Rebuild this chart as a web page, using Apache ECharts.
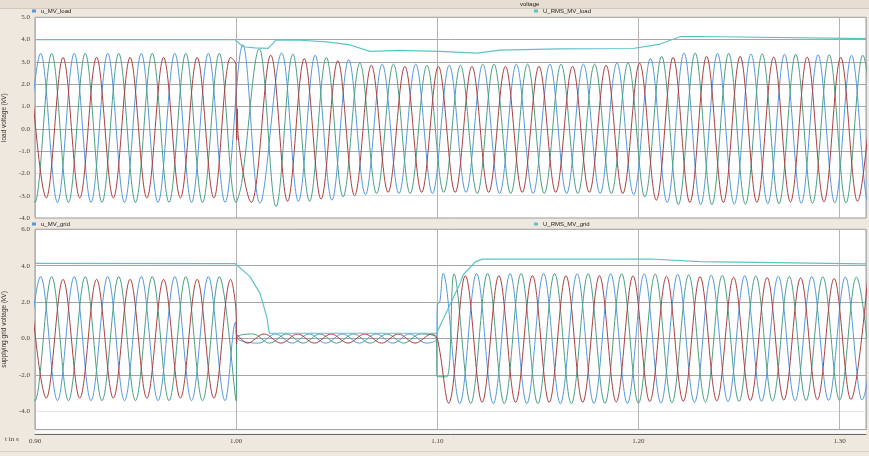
<!DOCTYPE html>
<html><head><meta charset="utf-8">
<script src="https://cdn.jsdelivr.net/npm/echarts@6/dist/echarts.min.js"></script>
<style>html,body{margin:0;padding:0;background:#efe8de;}#c{width:869px;height:456px;}</style>
</head><body><div id="c"></div>
<script>
// ---------- data (time in s, voltage in kV) ----------
const HALF = 1 / 120; // half period of the 60 Hz waveforms

// x-axis tick labels
const xTicks = [0.90, 1.00, 1.10, 1.20, 1.30];

// --- load side (top panel): extremum values, one per half cycle ---
const loadBluePre  = [-3.30, 3.38, -3.30, 3.38, -3.30, 3.38, -3.30, 3.38, -3.30, 3.38, -3.30, 3.38, -3.30];
const loadBlueFault = [[1.0033, 3.77], [1.0118, -3.34]];
const loadBluePost = [3.40, -3.25, 3.30, -3.20, 3.10, -2.95, 2.90, -2.90, 2.90, -2.90, 2.85, -2.85, 2.90, -2.90,
  2.90, -2.90, 2.90, -2.90, 2.90, -2.90, 2.95, -2.95, 3.15, -3.30, 3.40, -3.40, 3.38, -3.38, 3.36, -3.36,
  3.34, -3.34, 3.32, -3.32, 3.30, -3.30, 3.30];

const loadGreenPre  = [3.38, -3.30, 3.38, -3.30, 3.38, -3.30, 3.38, -3.30, 3.38, -3.30, 3.38, -3.30, 3.38, -3.30];
const loadGreenFault = [[1.0027, -2.45]];
const loadGreenPost = [3.59, -3.49, 3.35, -3.25, 3.20, -3.05, 2.95, -2.90, 2.90, -2.90, 2.85, -2.85, 2.85, -2.90,
  2.90, -2.90, 2.90, -2.90, 2.90, -2.90, 2.90, -2.90, 2.95, -3.05, 3.25, -3.40, 3.40, -3.40, 3.38, -3.38,
  3.36, -3.36, 3.34, -3.34, 3.32, -3.32, 3.30, -3.30];

const loadRedPre  = [3.20, -3.10, 3.20, -3.10, 3.20, -3.10, 3.20, -3.10, 3.20, -3.10, 3.20, -3.10, 3.20];
const loadRedFault = [[0.99985, 2.9], [1.0000, 0.8], [1.0003, -0.5], [1.0006, 0.9], [1.0010, -0.3], [1.0075, -3.30]];
const loadRedPost = [3.30, -3.25, 3.15, -3.15, 3.05, -3.00, 2.85, -2.85, 2.80, -2.85, 2.80, -2.85, 2.80, -2.85,
  2.80, -2.85, 2.80, -2.85, 2.80, -2.85, 2.85, -2.90, 2.95, -3.20, 3.20, -3.30, 3.25, -3.30, 3.25, -3.30,
  3.22, -3.28, 3.22, -3.28, 3.20, -3.25, 3.20];

const loadRms = [[0.9, 4.0], [0.99943, 4.0], [1.00341, 3.68], [1.00937, 3.63], [1.01583, 3.61], [1.01981, 3.98],
  [1.03174, 3.97], [1.04516, 3.90], [1.0566, 3.76], [1.06654, 3.47], [1.08145, 3.52], [1.10134, 3.47],
  [1.11974, 3.39], [1.13117, 3.53], [1.161, 3.58], [1.19729, 3.60], [1.21071, 3.80], [1.22066, 4.13],
  [1.2306, 4.14], [1.31313, 4.04]];

// --- supplying grid (bottom panel) ---
const gridBluePre = [-3.41, 3.40, -3.41, 3.40, -3.41, 3.40, -3.41, 3.40, -3.41, 3.40, -3.41, 3.40, -3.41];
const gridBlueFault = [[0.9997, 0.9], [1.0004, 0.05]];
const gridBlueSag = [-0.25, 0.25, -0.25, 0.25, -0.25, 0.25, -0.25, 0.25, -0.25, 0.25, -0.25];
const gridBlueRecover = [[1.0997, 0.0], [1.1000, 1.9], [1.1012, 2.0]];
const gridBluePost = [3.58, -3.57, 3.57, -3.57, 3.57, -3.57, 3.57, -3.57, 3.56, -3.56, 3.56, -3.56, 3.55, -3.54,
  3.52, -3.50, 3.48, -3.47, 3.45, -3.44, 3.42, -3.41, 3.40, -3.39, 3.38, -3.37, 3.36];

const gridGreenPre = [3.40, -3.41, 3.40, -3.41, 3.40, -3.41, 3.40, -3.41, 3.40, -3.41, 3.40, -3.41, 3.40, -3.41];
const gridGreenFault = [[1.0003, 0.0]];
const gridGreenSag = [0.25, -0.25, 0.25, -0.25, 0.25, -0.25, 0.25, -0.25, 0.25, -0.25, 0.25];
const gridGreenRecover = [[1.0995, 0.0], [1.0999, -2.09], [1.1047, -2.10]];
const gridGreenPost = [3.55, -3.57, 3.57, -3.57, 3.57, -3.57, 3.57, -3.57, 3.56, -3.56, 3.56, -3.55, 3.54, -3.52,
  3.50, -3.48, 3.47, -3.45, 3.44, -3.42, 3.41, -3.40, 3.39, -3.38, 3.37, -3.36];

const gridRedPre = [3.25, -3.27, 3.25, -3.27, 3.25, -3.27, 3.25, -3.27, 3.25, -3.27, 3.25, -3.27, 3.25];
const gridRedFault = [[0.9999, 1.5], [1.0002, -0.3], [1.0005, 0.2]];
const gridRedSag = [-0.25, 0.25, -0.25, 0.25, -0.25, 0.25, -0.25, 0.25, -0.25, 0.25, -0.25, 0.25];
const gridRedRecover = [[1.1000, 0.0]];
const gridRedPost = [-3.55, 3.45, -3.50, 3.45, -3.50, 3.45, -3.50, 3.45, -3.50, 3.45, -3.48, 3.44, -3.46, 3.42,
  -3.44, 3.40, -3.42, 3.37, -3.40, 3.35, -3.38, 3.33, -3.36, 3.30, -3.34, 3.28];

const gridRms = [[0.9, 4.13], [0.99943, 4.12], [1.00689, 3.40], [1.01186, 2.48], [1.01519, 1.20], [1.01648, 0.29],
  [1.0996, 0.29], [1.11128, 3.03], [1.11278, 3.49], [1.11874, 4.20], [1.12222, 4.36], [1.20574, 4.37],
  [1.2306, 4.22], [1.31313, 4.10]];

// start times of the regular runs (first extremum of each run)
const runStarts = {
  loadBluePre: 0.8945, loadBluePost: 1.0226,
  loadGreenPre: 0.89163, loadGreenPost: 1.0115,
  loadRedPre: 0.89727, loadRedPost: 1.0172,
  gridBluePre: 0.8945, gridBlueSag: 1.0112, gridBluePost: 1.10283,
  gridGreenPre: 0.89163, gridGreenSag: 1.0083, gridGreenPost: 1.1083,
  gridRedPre: 0.89727, gridRedSag: 1.0056, gridRedPost: 1.1056
};

// ---------- build ----------
function run(t0, vals) { return vals.map((v, i) => [t0 + i * HALF, v]); }
function join() { return [].concat.apply([], arguments).sort((a, b) => a[0] - b[0]); }
const S = runStarts;
const loadBlue = join(run(S.loadBluePre, loadBluePre), loadBlueFault, run(S.loadBluePost, loadBluePost));
const loadGreen = join(run(S.loadGreenPre, loadGreenPre), loadGreenFault, run(S.loadGreenPost, loadGreenPost));
const loadRed = join(run(S.loadRedPre, loadRedPre), loadRedFault, run(S.loadRedPost, loadRedPost));
const gridBlue = join(run(S.gridBluePre, gridBluePre), gridBlueFault, run(S.gridBlueSag, gridBlueSag), gridBlueRecover, run(S.gridBluePost, gridBluePost));
const gridGreen = join(run(S.gridGreenPre, gridGreenPre), gridGreenFault, run(S.gridGreenSag, gridGreenSag), gridGreenRecover, run(S.gridGreenPost, gridGreenPost));
const gridRed = join(run(S.gridRedPre, gridRedPre), gridRedFault, run(S.gridRedSag, gridRedSag), gridRedRecover, run(S.gridRedPost, gridRedPost));

const BLUE = '#5398de', GREEN = '#4a9f82', RED = '#ab3e40', CYAN = '#5cc4c8';
const DARK = '#a6a6a6', LIGHT = '#e2e2e2', NONE = 'rgba(0,0,0,0)';
const LBL = { fontFamily: 'Liberation Serif', fontSize: 7, color: '#444' };

function wave(name, data, color, xi) {
  return { name: name, type: 'line', data: data, xAxisIndex: xi, yAxisIndex: xi, showSymbol: false,
    smooth: 0.36, lineStyle: { width: 1, color: color }, itemStyle: { color: color }, silent: true };
}
function rms(name, data, xi) {
  return { name: name, type: 'line', data: data, xAxisIndex: xi, yAxisIndex: xi, showSymbol: false,
    lineStyle: { width: 1.2, color: CYAN }, itemStyle: { color: CYAN }, z: 5, silent: true };
}
const xFmt = v => xTicks.some(t => Math.abs(t - v) < 1e-6) ? v.toFixed(2) : '';
const legendBase = { orient: 'horizontal', icon: 'rect', itemWidth: 4, itemHeight: 3, padding: 0,
  textStyle: { fontFamily: 'Liberation Sans', fontSize: 6, color: '#222' } };

const chart = echarts.init(document.getElementById('c'), null, { renderer: 'canvas' });
chart.setOption({
  animation: false,
  backgroundColor: '#efe8de',
  graphic: [
    { type: 'rect', shape: { x: 0, y: 0, width: 869, height: 8 }, style: { fill: '#e7ded1' }, z: -10 },
    { type: 'line', shape: { x1: 0, y1: 8.5, x2: 869, y2: 8.5 }, style: { stroke: '#d3c9bb', lineWidth: 1 }, z: -9 },
    { type: 'rect', shape: { x: 35, y: 429.6, width: 831, height: 4 }, style: { fill: '#fbfbfb' }, z: -1 },
    { type: 'text', left: 520, top: 1, style: { text: 'voltage', font: '6px "Liberation Sans"', fill: '#222' } },
    { type: 'text', left: 5, top: 436, style: { text: 't in s', font: '7px "Liberation Serif"', fill: '#444' } },
    { type: 'line', shape: { x1: 0, y1: 451.5, x2: 869, y2: 451.5 }, style: { stroke: '#d8cfc2', lineWidth: 1 } }
  ],
  legend: [
    Object.assign({ data: ['u_MV_load'], left: 32, top: 8 }, legendBase),
    Object.assign({ data: ['U_RMS_MV_load'], left: 534, top: 8 }, legendBase),
    Object.assign({ data: ['u_MV_grid'], left: 32, top: 221 }, legendBase),
    Object.assign({ data: ['U_RMS_MV_grid'], left: 534, top: 221 }, legendBase)
  ],
  grid: [
    { left: 35, top: 17.3, width: 831, height: 200.7, show: true, backgroundColor: '#ffffff', borderColor: '#9c9c9c', borderWidth: 1,
      containLabel: false, outerBoundsMode: 'none' },
    { left: 35, top: 229.3, width: 831, height: 200.3, show: true, backgroundColor: '#ffffff', borderColor: '#9c9c9c', borderWidth: 1,
      containLabel: false, outerBoundsMode: 'none' }
  ],
  xAxis: [
    { type: 'value', gridIndex: 0, min: 0.9, max: 1.3131, interval: 0.1,
      axisLabel: { show: false }, axisLine: { show: false }, axisTick: { show: false },
      splitLine: { show: true, lineStyle: { color: '#b4b4b4', width: 1 } } },
    { type: 'value', gridIndex: 1, min: 0.9, max: 1.3131, interval: 0.1, offset: 5,
      axisLabel: Object.assign({ formatter: xFmt, margin: 3 }, LBL),
      axisLine: { show: true, onZero: false, lineStyle: { color: '#666', width: 1 } }, axisTick: { show: false },
      splitLine: { show: true, lineStyle: { color: '#b4b4b4', width: 1 } } }
  ],
  yAxis: [
    { type: 'value', gridIndex: 0, min: -4, max: 5, interval: 1,
      name: 'load voltage (kV)', nameLocation: 'middle', nameGap: 26, nameRotate: 90,
      nameTextStyle: { fontFamily: 'Liberation Sans', fontSize: 6.5, color: '#333' },
      axisLabel: Object.assign({ formatter: v => v.toFixed(1), margin: 5 }, LBL),
      axisLine: { show: false }, axisTick: { show: false },
      splitLine: { show: true, lineStyle: { width: 1, color: [NONE, LIGHT, LIGHT, DARK, DARK, DARK, DARK, DARK, DARK, NONE] } } },
    { type: 'value', gridIndex: 1, min: -5, max: 6, interval: 1,
      name: 'supplying grid voltage (kV)', nameLocation: 'middle', nameGap: 26, nameRotate: 90,
      nameTextStyle: { fontFamily: 'Liberation Sans', fontSize: 6.5, color: '#333' },
      axisLabel: Object.assign({ formatter: v => (Math.round(v) % 2 === 0 ? v.toFixed(1) : ''), margin: 5 }, LBL),
      axisLine: { show: false }, axisTick: { show: false },
      splitLine: { show: true, lineStyle: { width: 1, color: [NONE, LIGHT, NONE, DARK, NONE, DARK, NONE, DARK, NONE, DARK, NONE, NONE] } } }
  ],
  series: [
    wave('u_MV_load', loadBlue, BLUE, 0),
    wave('u_MV_load', loadGreen, GREEN, 0),
    wave('u_MV_load', loadRed, RED, 0),
    rms('U_RMS_MV_load', loadRms, 0),
    wave('u_MV_grid', gridBlue, BLUE, 1),
    wave('u_MV_grid', gridGreen, GREEN, 1),
    wave('u_MV_grid', gridRed, RED, 1),
    rms('U_RMS_MV_grid', gridRms, 1)
  ]
});
</script></body></html>
